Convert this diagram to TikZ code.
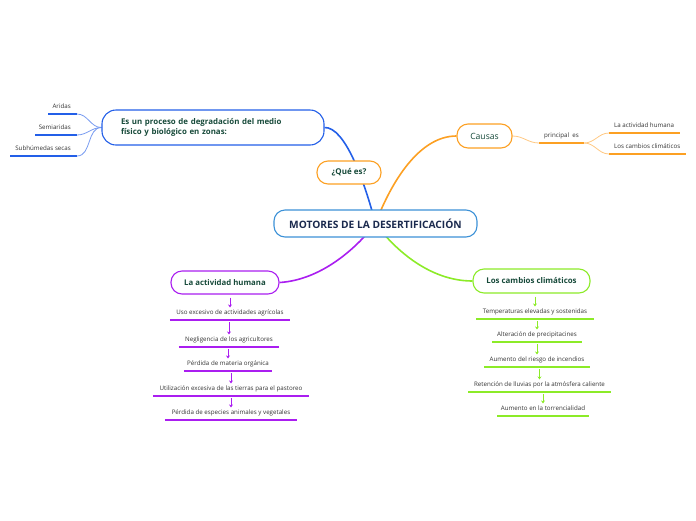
\documentclass[tikz,border=0pt]{standalone}
\usepackage{fontspec}
\setmainfont{Open Sans}
\usetikzlibrary{arrows.meta,backgrounds}
\definecolor{cblue}{RGB}{35,95,232}
\definecolor{lblue}{RGB}{120,155,240}
\definecolor{cmain}{RGB}{60,145,215}
\definecolor{corange}{RGB}{252,160,35}
\definecolor{lorange}{RGB}{255,200,130}
\definecolor{cpurple}{RGB}{170,30,240}
\definecolor{cgreen}{RGB}{140,235,40}
\definecolor{ntext}{HTML}{174A3A}
\definecolor{mtext}{HTML}{1B2A4E}
\definecolor{ltext}{HTML}{333333}
\tikzset{
  pill/.style={draw, rounded corners=11pt, line width=1.1pt, fill=white, inner sep=0pt, text=ntext},
  leaf/.style={inner xsep=5pt, inner ysep=3.5pt, text height=4.8pt, text depth=1.4pt, text=ltext, font=\fontsize{6.2}{7}\selectfont},
  item/.style={leaf, inner xsep=0pt, anchor=south},
  uline/.style={line width=2pt},
  main/.style={line width=1.6pt},
  thin/.style={line width=0.8pt},
  arrP/.style={cpurple, line width=1pt, -{Stealth[length=3pt,width=4pt]}},
  arrG/.style={cgreen, line width=1pt, -{Stealth[length=3pt,width=4pt]}},
}
\begin{document}
\begin{tikzpicture}[x=1pt,y=-1pt]
\useasboundingbox (0,0) rectangle (696,520);

% main nodes
\node[pill, draw=cmain, text=mtext, minimum width=203pt, minimum height=27pt, font=\fontsize{10.2}{12}\bfseries] (m) at (375.5,223.5) {MOTORES DE LA DESERTIFICACIÓN};
\node[pill, draw=corange, minimum width=64pt, minimum height=23pt, font=\fontsize{8}{9}\bfseries] (q) at (349,172.5) {¿Qué es?};
\node[pill, draw=cblue, minimum width=222pt, minimum height=35pt, rounded corners=14pt, text width=184pt, align=left, inner xsep=19pt, font=\fontsize{7.9}{10.5}\bfseries] (es) at (213,127.5) {Es un proceso de degradación del medio\\físico y biológico en zonas:};
\node[pill, draw=corange, minimum width=55pt, minimum height=24pt, font=\fontsize{8.6}{10}\selectfont] (c) at (484.5,136) {Causas};
\node[pill, draw=cpurple, minimum width=108pt, minimum height=23pt, font=\fontsize{7.8}{9}\bfseries] (ah) at (225,282.5) {La actividad humana};
\node[pill, draw=cgreen, minimum width=117pt, minimum height=24pt, font=\fontsize{7.9}{9}\bfseries] (lc) at (531.5,281) {Los cambios climáticos};

% left leaves
\node[leaf, anchor=south east, inner xsep=6pt] (a1) at (77,114) {Aridas};
\node[leaf, anchor=south east, inner xsep=6pt] (a2) at (77,135) {Semiaridas};
\node[leaf, anchor=south east, inner xsep=6pt] (a3) at (77,156) {Subhúmedas secas};
\draw[cblue, uline] (a1.south east) -- ++(-29,0);
\draw[cblue, uline] (a2.south east) -- ++(-42,0);
\draw[cblue, uline] (a3.south east) -- ++(-67,0);

% right leaves
\node[leaf, anchor=south, minimum width=45pt, inner xsep=0pt] (pe) at (561.5,143) {principal\ \ es};
\node[leaf, anchor=south west] (r1) at (609,133) {La actividad humana};
\node[leaf, anchor=south west] (r2) at (609,154) {Los cambios climáticos};
\draw[corange, line width=2.5pt] (pe.south west) -- (pe.south east);
\draw[corange, uline] (r1.south west) -- ++(71,0);
\draw[corange, uline] (r2.south west) -- ++(77,0);

% purple items
\node[item, minimum width=120pt] (p1) at (230,320) {Uso excesivo de actividades agrícolas};
\node[item, minimum width=100pt] (p2) at (229,347) {Negligencia de los agricultores};
\node[item, minimum width=88pt] (p3) at (228,371) {Pérdida de materia orgánica};
\node[item, minimum width=156pt] (p4) at (231,396) {Utilización excesiva de las tierras para el pastoreo};
\node[item, minimum width=132pt] (p5) at (231,420) {Pérdida de especies animales y vegetales};
\foreach \n in {p1,p2,p3,p4,p5} \draw[cpurple, uline] (\n.south west) -- (\n.south east);

% green items
\node[item, minimum width=117pt] (g1) at (535,319) {Temperaturas elevadas y sostenidas};
\node[item, minimum width=89pt] (g2) at (537,342) {Alteración de precipitacines};
\node[item, minimum width=105pt] (g3) at (537,367) {Aumento del riesgo de incendios};
\node[item, minimum width=142pt] (g4) at (539.5,392) {Retención de lluvias por la atmósfera caliente};
\node[item, minimum width=91pt] (g5) at (543,416) {Aumento en la torrencialidad};
\foreach \n in {g1,g2,g3,g4,g5} \draw[cgreen, uline] (\n.south west) -- (\n.south east);

% arrows
\draw[arrP] ([yshift=-3pt]ah.south -| p1.north) -- ([yshift=-1pt]p1.north);
\draw[arrP] ([yshift=-2pt]p1.south -| p2.north) -- ([yshift=-1pt]p2.north);
\draw[arrP] ([yshift=-2pt]p2.south -| p3.north) -- ([yshift=-1pt]p3.north);
\draw[arrP] ([yshift=-2pt]p3.south -| p4.north) -- ([yshift=-1pt]p4.north);
\draw[arrP] ([yshift=-2pt]p4.south -| p5.north) -- ([yshift=-1pt]p5.north);
\draw[arrG] ([yshift=-3pt]lc.south -| g1.north) -- ([yshift=-1pt]g1.north);
\draw[arrG] ([yshift=-2pt]g1.south -| g2.north) -- ([yshift=-1pt]g2.north);
\draw[arrG] ([yshift=-2pt]g2.south -| g3.north) -- ([yshift=-1pt]g3.north);
\draw[arrG] ([yshift=-2pt]g3.south -| g4.north) -- ([yshift=-1pt]g4.north);
\draw[arrG] ([yshift=-2pt]g4.south -| g5.north) -- ([yshift=-1pt]g5.north);

\begin{pgfonlayer}{background}
\draw[main, cblue] (m.center) .. controls (364,180) and (345,127) .. (es.east);
\draw[main, corange] (m.center) .. controls (392,180) and (420,136) .. (c.west);
\draw[main, cpurple] (m.center) .. controls (355,250) and (320,280) .. (ah.east);
\draw[main, cgreen] (m.center) .. controls (395,250) and (430,281) .. (lc.west);
\draw[thin, lblue] (es.west) to[out=180,in=0] (a1.south east);
\draw[thin, lblue] (es.west) to[out=180,in=0] (a2.south east);
\draw[thin, lblue] (es.west) to[out=180,in=0] (a3.south east);
\draw[thin, lorange] (c.east) to[out=0,in=180] (pe.south west);
\draw[thin, lorange] (pe.south east) to[out=0,in=180] (r1.south west);
\draw[thin, lorange] (pe.south east) to[out=0,in=180] (r2.south west);
\end{pgfonlayer}
\end{tikzpicture}
\end{document}
